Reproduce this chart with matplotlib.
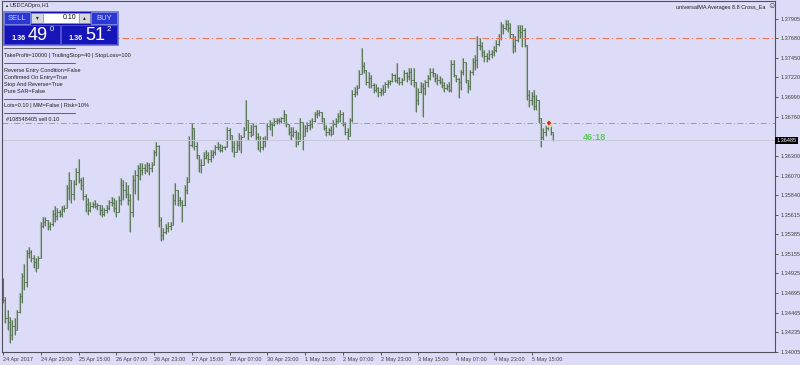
import matplotlib.pyplot as plt

# USDCAD H1 bars (open = previous close)
first_open = 1.3474
highs = [
    1.3487, 1.3465, 1.3450, 1.3441, 1.3438, 1.3440, 1.3450, 1.3470, 1.3493, 1.3503,
    1.3520, 1.3523, 1.3520, 1.3514, 1.3511, 1.3513, 1.3553, 1.3558, 1.3559, 1.3555,
    1.3553, 1.3567, 1.3571, 1.3569, 1.3567, 1.3572, 1.3573, 1.3596, 1.3611, 1.3602,
    1.3602, 1.3616, 1.3626, 1.3604, 1.3605, 1.3585, 1.3581, 1.3576, 1.3576, 1.3579,
    1.3575, 1.3573, 1.3573, 1.3569, 1.3573, 1.3579, 1.3582, 1.3581, 1.3579, 1.3583,
    1.3604, 1.3602, 1.3600, 1.3596, 1.3585, 1.3608, 1.3614, 1.3620, 1.3622, 1.3622,
    1.3621, 1.3623, 1.3622, 1.3623, 1.3637, 1.3646, 1.3643, 1.3558, 1.3546, 1.3550,
    1.3553, 1.3553, 1.3585, 1.3598, 1.3590, 1.3582, 1.3579, 1.3596, 1.3605, 1.3653,
    1.3669, 1.3663, 1.3646, 1.3631, 1.3626, 1.3635, 1.3637, 1.3635, 1.3637, 1.3637,
    1.3643, 1.3646, 1.3644, 1.3643, 1.3642, 1.3664, 1.3663, 1.3655, 1.3647, 1.3649,
    1.3657, 1.3655, 1.3664, 1.3696, 1.3669, 1.3666, 1.3669, 1.3666, 1.3657, 1.3653,
    1.3652, 1.3653, 1.3669, 1.3672, 1.3670, 1.3675, 1.3675, 1.3675, 1.3676, 1.3684,
    1.3675, 1.3668, 1.3664, 1.3664, 1.3661, 1.3658, 1.3675, 1.3661, 1.3666, 1.3670,
    1.3672, 1.3675, 1.3682, 1.3684, 1.3684, 1.3682, 1.3675, 1.3666, 1.3663, 1.3665,
    1.3672, 1.3675, 1.3680, 1.3684, 1.3682, 1.3670, 1.3663, 1.3675, 1.3707, 1.3711,
    1.3713, 1.3731, 1.3757, 1.3740, 1.3731, 1.3728, 1.3725, 1.3716, 1.3714, 1.3711,
    1.3710, 1.3713, 1.3717, 1.3719, 1.3719, 1.3727, 1.3726, 1.3739, 1.3723, 1.3721,
    1.3731, 1.3728, 1.3733, 1.3733, 1.3733, 1.3713, 1.3710, 1.3717, 1.3716, 1.3719,
    1.3725, 1.3733, 1.3733, 1.3727, 1.3726, 1.3724, 1.3721, 1.3717, 1.3714, 1.3717,
    1.3742, 1.3742, 1.3723, 1.3721, 1.3731, 1.3745, 1.3740, 1.3719, 1.3731, 1.3745,
    1.3748, 1.3770, 1.3768, 1.3764, 1.3754, 1.3751, 1.3754, 1.3754, 1.3759, 1.3766,
    1.3773, 1.3787, 1.3785, 1.3789, 1.3789, 1.3786, 1.3772, 1.3771, 1.3783, 1.3783,
    1.3783, 1.3780, 1.3760, 1.3707, 1.3705, 1.3707, 1.3701, 1.3696, 1.3675, 1.3663,
    1.3666, 1.3672, 1.3666, 1.3657,
]
lows = [
    1.3458, 1.3434, 1.3426, 1.3411, 1.3415, 1.3420, 1.3426, 1.3446, 1.3458, 1.3473,
    1.3477, 1.3511, 1.3506, 1.3499, 1.3494, 1.3505, 1.3511, 1.3546, 1.3548, 1.3543,
    1.3543, 1.3548, 1.3553, 1.3555, 1.3558, 1.3559, 1.3565, 1.3569, 1.3579, 1.3575,
    1.3579, 1.3596, 1.3598, 1.3590, 1.3579, 1.3565, 1.3561, 1.3565, 1.3569, 1.3569,
    1.3567, 1.3561, 1.3558, 1.3560, 1.3563, 1.3567, 1.3572, 1.3565, 1.3559, 1.3567,
    1.3573, 1.3579, 1.3581, 1.3573, 1.3541, 1.3558, 1.3585, 1.3579, 1.3602, 1.3608,
    1.3609, 1.3611, 1.3608, 1.3611, 1.3620, 1.3630, 1.3547, 1.3530, 1.3532, 1.3539,
    1.3541, 1.3543, 1.3553, 1.3573, 1.3571, 1.3572, 1.3553, 1.3571, 1.3585, 1.3602,
    1.3641, 1.3637, 1.3626, 1.3611, 1.3610, 1.3619, 1.3626, 1.3622, 1.3623, 1.3628,
    1.3631, 1.3637, 1.3635, 1.3635, 1.3637, 1.3640, 1.3649, 1.3635, 1.3629, 1.3635,
    1.3637, 1.3634, 1.3653, 1.3669, 1.3649, 1.3652, 1.3655, 1.3649, 1.3637, 1.3635,
    1.3637, 1.3640, 1.3649, 1.3661, 1.3654, 1.3665, 1.3668, 1.3668, 1.3669, 1.3670,
    1.3664, 1.3655, 1.3649, 1.3652, 1.3641, 1.3643, 1.3649, 1.3637, 1.3654, 1.3658,
    1.3661, 1.3663, 1.3670, 1.3675, 1.3677, 1.3670, 1.3661, 1.3653, 1.3655, 1.3654,
    1.3658, 1.3664, 1.3669, 1.3670, 1.3665, 1.3655, 1.3649, 1.3654, 1.3670, 1.3699,
    1.3701, 1.3710, 1.3726, 1.3727, 1.3713, 1.3710, 1.3710, 1.3704, 1.3705, 1.3699,
    1.3700, 1.3701, 1.3707, 1.3710, 1.3713, 1.3717, 1.3717, 1.3716, 1.3713, 1.3713,
    1.3719, 1.3717, 1.3719, 1.3713, 1.3711, 1.3682, 1.3690, 1.3704, 1.3676, 1.3701,
    1.3711, 1.3719, 1.3723, 1.3717, 1.3713, 1.3714, 1.3710, 1.3705, 1.3707, 1.3705,
    1.3705, 1.3723, 1.3717, 1.3698, 1.3707, 1.3725, 1.3716, 1.3704, 1.3707, 1.3725,
    1.3731, 1.3733, 1.3754, 1.3746, 1.3740, 1.3740, 1.3742, 1.3745, 1.3747, 1.3752,
    1.3759, 1.3766, 1.3773, 1.3778, 1.3775, 1.3768, 1.3751, 1.3752, 1.3764, 1.3768,
    1.3758, 1.3758, 1.3696, 1.3687, 1.3690, 1.3684, 1.3684, 1.3669, 1.3641, 1.3649,
    1.3653, 1.3661, 1.3655, 1.3647,
]
closes = [
    1.3461, 1.3440, 1.3436, 1.3420, 1.3431, 1.3426, 1.3447, 1.3466, 1.3490, 1.3483,
    1.3517, 1.3518, 1.3511, 1.3506, 1.3499, 1.3511, 1.3548, 1.3553, 1.3555, 1.3548,
    1.3550, 1.3562, 1.3560, 1.3565, 1.3562, 1.3568, 1.3569, 1.3593, 1.3602, 1.3585,
    1.3597, 1.3611, 1.3602, 1.3596, 1.3583, 1.3574, 1.3567, 1.3572, 1.3574, 1.3572,
    1.3573, 1.3567, 1.3562, 1.3567, 1.3569, 1.3576, 1.3575, 1.3569, 1.3565, 1.3579,
    1.3596, 1.3590, 1.3586, 1.3579, 1.3565, 1.3602, 1.3608, 1.3616, 1.3614, 1.3616,
    1.3614, 1.3619, 1.3616, 1.3620, 1.3635, 1.3642, 1.3555, 1.3537, 1.3541, 1.3546,
    1.3548, 1.3549, 1.3579, 1.3590, 1.3579, 1.3576, 1.3573, 1.3590, 1.3600, 1.3643,
    1.3663, 1.3642, 1.3631, 1.3619, 1.3620, 1.3628, 1.3631, 1.3626, 1.3631, 1.3635,
    1.3640, 1.3641, 1.3637, 1.3641, 1.3640, 1.3661, 1.3655, 1.3640, 1.3635, 1.3643,
    1.3649, 1.3652, 1.3661, 1.3672, 1.3658, 1.3655, 1.3665, 1.3652, 1.3649, 1.3640,
    1.3647, 1.3649, 1.3665, 1.3668, 1.3666, 1.3671, 1.3672, 1.3671, 1.3674, 1.3679,
    1.3668, 1.3658, 1.3655, 1.3658, 1.3649, 1.3647, 1.3670, 1.3654, 1.3663, 1.3666,
    1.3668, 1.3671, 1.3679, 1.3680, 1.3682, 1.3675, 1.3663, 1.3658, 1.3661, 1.3656,
    1.3668, 1.3671, 1.3677, 1.3679, 1.3668, 1.3658, 1.3654, 1.3672, 1.3703, 1.3705,
    1.3710, 1.3726, 1.3735, 1.3731, 1.3717, 1.3721, 1.3713, 1.3707, 1.3710, 1.3705,
    1.3707, 1.3705, 1.3714, 1.3717, 1.3718, 1.3725, 1.3719, 1.3721, 1.3717, 1.3719,
    1.3727, 1.3724, 1.3728, 1.3719, 1.3717, 1.3696, 1.3705, 1.3712, 1.3710, 1.3717,
    1.3721, 1.3728, 1.3727, 1.3721, 1.3719, 1.3717, 1.3713, 1.3710, 1.3712, 1.3707,
    1.3738, 1.3725, 1.3720, 1.3717, 1.3728, 1.3740, 1.3719, 1.3712, 1.3728, 1.3740,
    1.3742, 1.3760, 1.3759, 1.3752, 1.3747, 1.3745, 1.3750, 1.3752, 1.3754, 1.3761,
    1.3768, 1.3782, 1.3780, 1.3785, 1.3780, 1.3773, 1.3759, 1.3766, 1.3778, 1.3775,
    1.3778, 1.3760, 1.3701, 1.3696, 1.3700, 1.3689, 1.3696, 1.3675, 1.3652, 1.3658,
    1.3663, 1.3666, 1.3658, 1.36485,
]

price_ticks = [1.37905, 1.37680, 1.37450, 1.37220, 1.36990, 1.36760, 1.36300,
               1.36070, 1.35840, 1.35615, 1.35385, 1.35155, 1.34925, 1.34695,
               1.34465, 1.34235, 1.34005]
time_labels = ["24 Apr 2017", "24 Apr 23:00", "25 Apr 15:00", "26 Apr 07:00",
               "26 Apr 23:00", "27 Apr 15:00", "28 Apr 07:00", "30 Apr 23:00",
               "1 May 15:00", "2 May 07:00", "2 May 23:00", "3 May 15:00",
               "4 May 07:00", "4 May 23:00", "5 May 15:00"]
bars_per_label = 16

stop_level = 1.37680
order_level = 1.36690
order_bar = 231.4
bid = 1.36485
timer_text = "46:18"

info_lines = ["TakeProfit=10000 | TrailingStop=40 | StopLoss=100",
              "Reverse Entry Condition=False",
              "Confirmed On Entry=True",
              "Stop And Reverse=True",
              "Pure SAR=False",
              "Lots=0.10 | MM=False | Risk=10%",
              "#108548405 sell 0.10"]

BG = '#dcdcf8'
BAR = '#4c6c4c'
FS = 4.0
plt.rcParams['font.family'] = ['Liberation Sans', 'DejaVu Sans']


def draw_bars(ax):
    n = len(closes)
    idx = list(range(n))
    opens = [first_open] + closes[:-1]
    tops = [max(h, o, c) for h, o, c in zip(highs, opens, closes)]
    bots = [min(l, o, c) for l, o, c in zip(lows, opens, closes)]
    # light halo then the dark bar, like the terminal's antialiased bars
    ax.vlines(idx, bots, tops, color='#a3b3a6', lw=1.6, alpha=0.8)
    ax.vlines(idx, bots, tops, color=BAR, lw=0.6)
    ax.hlines(opens, [i - 0.5 for i in idx], idx, color=BAR, lw=0.6)
    ax.hlines(closes, idx, [i + 0.5 for i in idx], color=BAR, lw=0.6)


def draw_panel(ov):
    # one-click trading panel
    ov.add_patch(plt.Rectangle((3, 11), 115, 34, fc='#1212a8', ec='#7c7ce0', lw=0.6))
    ov.add_patch(plt.Rectangle((4, 12), 26, 12, fc='#2a38d4', ec='#a0a8f0', lw=0.5))
    ov.add_patch(plt.Rectangle((91, 12), 26, 12, fc='#2a38d4', ec='#a0a8f0', lw=0.5))
    ov.add_patch(plt.Rectangle((31, 12.5), 12, 10.5, fc='#d6d6de', ec='#9090a0', lw=0.4))
    ov.add_patch(plt.Rectangle((43, 12.5), 36, 10.5, fc='white', ec='#9090a0', lw=0.4))
    ov.add_patch(plt.Rectangle((79, 12.5), 11, 10.5, fc='#d6d6de', ec='#9090a0', lw=0.4))
    ov.add_patch(plt.Rectangle((4, 25), 56, 19, fc='#1616b8', ec='#6a6ae8', lw=0.5))
    ov.add_patch(plt.Rectangle((61, 25), 56, 19, fc='#1616b8', ec='#6a6ae8', lw=0.5))
    ov.text(17, 18.3, "SELL", color='#cdd4ff', fontsize=5.5, ha='center', va='center')
    ov.text(104, 18.3, "BUY", color='#cdd4ff', fontsize=5.5, ha='center', va='center')
    ov.text(37, 17.8, "▾", color='#202020', fontsize=4, ha='center', va='center')
    ov.text(84.5, 17.8, "▴", color='#202020', fontsize=4, ha='center', va='center')
    ov.text(76, 17.8, "0.10", color='#101010', fontsize=5, ha='right', va='center')
    for x0, big, sup in [(11, "49", "0"), (68, "51", "2")]:
        ov.text(x0, 38.5, "1.36", color='white', fontsize=5.2, fontweight='bold',
                ha='left', va='center')
        ov.text(x0 + 17, 35.5, big, color='white', fontsize=13, ha='left', va='center')
        ov.text(x0 + 39, 29.5, sup, color='white', fontsize=5.5, ha='left', va='center')

    # info text block
    sep = dict(color='#303030', lw=0.5)
    ov.plot([4, 75], [48, 48], **sep)
    ov.text(4, 56, info_lines[0], fontsize=FS, color='#202020', va='center')
    ov.plot([4, 75], [62.5, 62.5], **sep)
    for k, line in enumerate(info_lines[1:5]):
        ov.text(4, 70.5 + 7 * k, line, fontsize=FS, color='#202020', va='center')
    ov.plot([4, 75], [98.5, 98.5], **sep)
    ov.text(4, 106, info_lines[5], fontsize=FS, color='#202020', va='center')
    ov.plot([4, 75], [113, 113], **sep)
    ov.text(6, 119.5, info_lines[6], fontsize=FS, color='#202020', va='center')

    ov.text(4, 6, "▲", fontsize=3, color='#303030', va='center')
    ov.text(10, 6, "USDCADpro,H1", fontsize=FS, color='#202020', va='center')
    ov.text(765, 7, "universalMA Averages 8.8 Cross_Ea", fontsize=FS,
            color='#202020', va='center', ha='right')
    ov.text(771, 7, "☺", fontsize=6, color='#303030', va='center', ha='center')


def main():
    fig = plt.figure(figsize=(8, 3.65), dpi=100, facecolor=BG)
    ax = fig.add_axes([2 / 800, 13 / 365, 773 / 800, 351 / 365], facecolor=BG)

    draw_bars(ax)
    ax.set_xlim(-0.42, 327.1)
    ax.set_ylim(1.34005, 1.38115)

    # horizontal levels
    ax.axhline(stop_level, color='#f07a58', lw=0.8, ls=(0, (6, 2.5, 1, 2.5)))
    ax.axhline(order_level, color='#9a9aa6', lw=0.7, ls=(0, (6, 2.5, 1, 2.5)))
    ax.axhline(bid, color='#c6c6d6', lw=0.6)
    ax.plot([order_bar], [order_level], 'o', ms=6, color='#e8e0c0', alpha=0.8, mec='none')
    ax.plot([order_bar], [order_level], '+', ms=3.5, color='#e02020', mew=1.2)
    ax.text(245.8, 1.36520, timer_text, color='#5ccc5c', fontsize=6.5,
            fontweight='bold', ha='left', va='center')

    # right price scale
    ax.yaxis.tick_right()
    ax.set_yticks(price_ticks)
    ax.set_yticklabels(["%.5f" % p for p in price_ticks])
    # bottom time scale
    ax.set_xticks([k * bars_per_label for k in range(len(time_labels))])
    ax.set_xticklabels(time_labels, ha='left')
    ax.tick_params(axis='both', labelsize=FS, colors='#404040', length=2.5,
                   width=0.6, pad=1.2)
    for s in ax.spines.values():
        s.set_color('#50505a')
        s.set_linewidth(0.8)

    ax.text(1.002, bid, "%.5f" % bid, transform=ax.get_yaxis_transform(),
            fontsize=FS, color='white', ha='left', va='center',
            bbox=dict(fc='black', ec='none', pad=0.8))

    # overlay in pixel coordinates for the terminal widgets
    ov = fig.add_axes([0, 0, 1, 1], facecolor='none')
    ov.set_xlim(0, 800)
    ov.set_ylim(365, 0)
    ov.axis('off')
    draw_panel(ov)

    fig.savefig("out.png", dpi=100, facecolor=BG)


if __name__ == "__main__":
    main()
